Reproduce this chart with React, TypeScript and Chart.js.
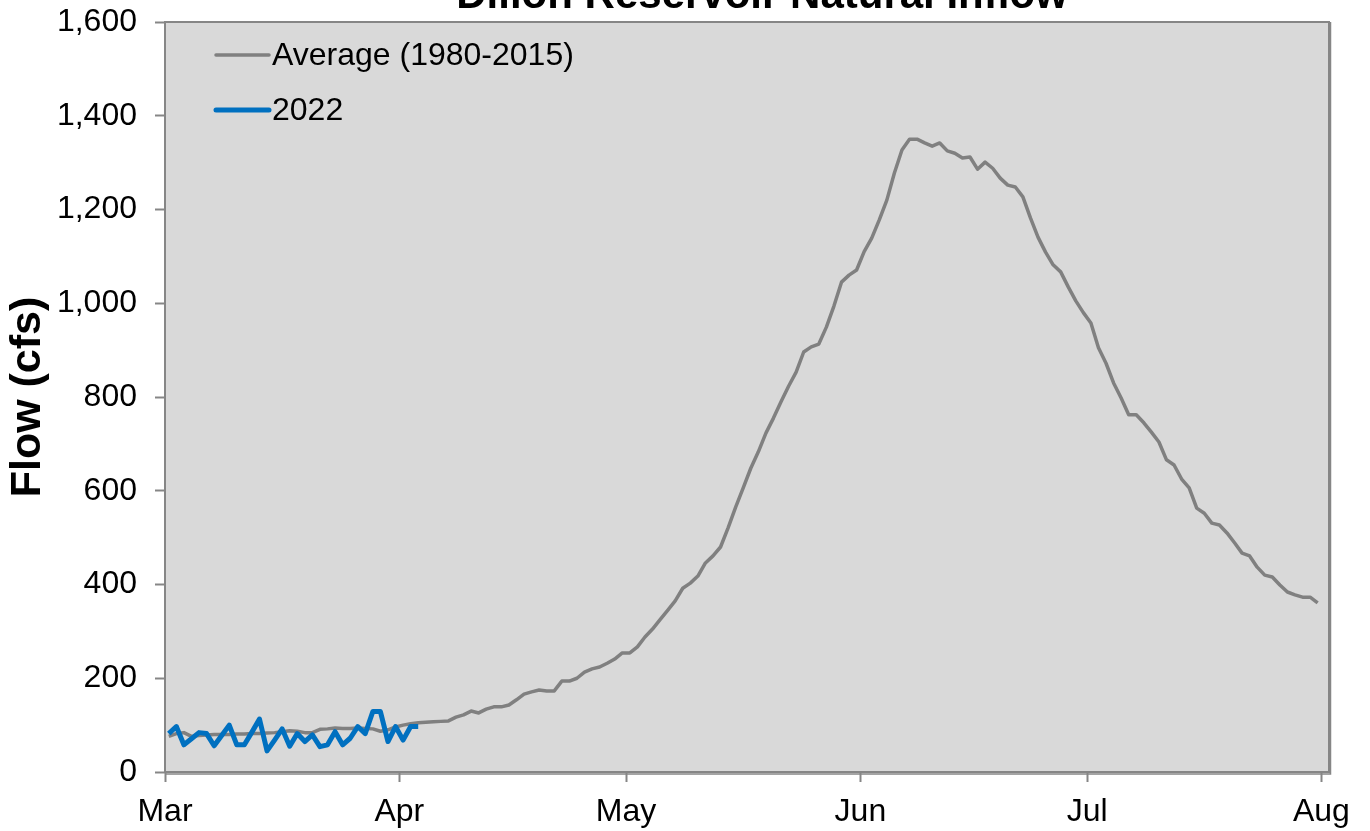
import React, { useEffect, useRef } from 'react';
import { Chart, registerables } from 'chart.js';

Chart.register(...registerables);

const TITLE = 'Dillon Reservoir Natural Inflow';
const Y_TITLE = 'Flow (cfs)';
const MONTH_LABELS = ['Mar', 'Apr', 'May', 'Jun', 'Jul', 'Aug'];
const MONTH_START_DAYS = [0, 31, 61, 92, 122, 153];
const AXIS_DAYS = 154;
const Y_MAX = 1600;
const Y_STEP = 200;

const AVERAGE_LABEL = 'Average (1980-2015)';
const CURRENT_LABEL = '2022';

// Daily average natural inflow, Mar 1 .. Jul 31 (cfs)
const AVERAGE_FLOW = [
  76, 82, 84, 76, 78, 79, 80, 80, 80, 81,
  81, 82, 82, 83, 84, 86, 88, 87, 84, 84,
  91, 92, 94, 93, 93, 94, 93, 92, 87, 90,
  96, 100, 103, 105, 106, 107, 108, 109, 117, 122,
  130, 126, 134, 139, 139, 143, 154, 166, 171, 175,
  173, 173, 194, 194, 200, 213, 220, 224, 232, 241,
  254, 254, 267, 288, 305, 325, 345, 365, 392, 403,
  418, 446, 461, 480, 521, 565, 606, 648, 683, 723,
  755, 790, 823, 853, 896, 907, 913, 949, 994, 1045,
  1060, 1071, 1110, 1139, 1178, 1220, 1278, 1327, 1350, 1350,
  1342, 1335, 1342, 1325, 1320, 1310, 1312, 1286, 1301, 1288,
  1267, 1252, 1248, 1227, 1182, 1141, 1109, 1082, 1067, 1035,
  1005, 980, 958, 905, 872, 830, 798, 762, 762, 745,
  725, 704, 666, 655, 625, 606, 563, 552, 531, 527,
  510, 489, 467, 461, 437, 420, 416, 399, 384, 378,
  373, 373, 361,
];

// Daily 2022 natural inflow, Mar 1 .. Apr 3 (cfs)
const FLOW_2022 = [
  82, 97, 58, 71, 84, 82, 56, 78, 100, 58,
  58, 85, 113, 45, 68, 92, 55, 82, 65, 79,
  54, 58, 86, 58, 72, 97, 82, 129, 129, 65,
  97, 68, 97, 97,
];

const AVERAGE_COLOR = '#808080';
const CURRENT_COLOR = '#0070C0';
const FONT = '"Liberation Sans", Arial, sans-serif';

const toPoints = (arr: number[]) => arr.map((v, i) => ({ x: i + 0.5, y: v }));

const plotPlugin = {
  id: 'plotDecor',
  beforeDraw(chart: any) {
    const { ctx, chartArea } = chart;
    const { left, top, right, bottom } = chartArea;
    ctx.save();
    ctx.fillStyle = '#d9d9d9';
    ctx.fillRect(left, top, right - left, bottom - top);
    ctx.restore();
  },
  beforeDatasetsDraw(chart: any) {
    const { ctx, chartArea } = chart;
    const { left, top, right, bottom } = chartArea;
    ctx.save();
    ctx.strokeStyle = '#868686';
    ctx.lineWidth = 2;
    ctx.strokeRect(left, top, right - left, bottom - top);
    ctx.lineWidth = 1.5;
    ctx.beginPath();
    ctx.moveTo(right + 1.5, top);
    ctx.lineTo(right + 1.5, bottom + 2);
    ctx.lineTo(left, bottom + 2);
    ctx.stroke();
    ctx.restore();
  },
  afterDraw(chart: any) {
    const { ctx, chartArea } = chart;
    const { left, top } = chartArea;
    ctx.save();
    ctx.fillStyle = '#000';
    ctx.font = `bold 42px ${FONT}`;
    ctx.textAlign = 'center';
    ctx.textBaseline = 'alphabetic';
    ctx.fillText(TITLE, 762, 8);
    const items = [
      { label: AVERAGE_LABEL, color: AVERAGE_COLOR, width: 3.5 },
      { label: CURRENT_LABEL, color: CURRENT_COLOR, width: 5 },
    ];
    ctx.font = `32px ${FONT}`;
    ctx.textAlign = 'left';
    ctx.textBaseline = 'middle';
    items.forEach((it, k) => {
      const y = top + 33 + k * 55;
      ctx.strokeStyle = it.color;
      ctx.lineWidth = it.width;
      ctx.lineCap = 'round';
      ctx.beginPath();
      ctx.moveTo(left + 51, y);
      ctx.lineTo(left + 104, y);
      ctx.stroke();
      ctx.fillStyle = '#000';
      ctx.fillText(it.label, left + 107, y + 1);
    });
    ctx.restore();
  },
};

export default function App() {
  const ref = useRef<HTMLCanvasElement | null>(null);

  useEffect(() => {
    if (!ref.current) return;
    const chart = new Chart(ref.current, {
      type: 'line',
      data: {
        datasets: [
          {
            label: AVERAGE_LABEL,
            data: toPoints(AVERAGE_FLOW),
            borderColor: AVERAGE_COLOR,
            borderWidth: 3.5,
            pointRadius: 0,
            tension: 0,
            order: 2,
            borderJoinStyle: 'round',
          },
          {
            label: CURRENT_LABEL,
            data: toPoints(FLOW_2022),
            borderColor: CURRENT_COLOR,
            borderWidth: 5,
            pointRadius: 0,
            tension: 0,
            order: 1,
            borderJoinStyle: 'round',
          },
        ],
      },
      options: {
        responsive: false,
        animation: false,
        devicePixelRatio: 1,
        layout: { padding: { left: 0, top: 22, right: 41, bottom: 0 } },
        plugins: {
          legend: { display: false },
          title: { display: false },
          tooltip: { enabled: false },
        },
        scales: {
          x: {
            type: 'linear',
            min: 0,
            max: AXIS_DAYS,
            afterBuildTicks: (scale: any) => {
              scale.ticks = MONTH_START_DAYS.map((v) => ({ value: v }));
            },
            afterFit: (scale: any) => {
              scale.height = 59;
              scale.paddingLeft = 0;
              scale.paddingRight = 0;
            },
            ticks: {
              autoSkip: false,
              maxRotation: 0,
              padding: 11,
              color: '#000',
              font: { family: FONT, size: 32 },
              callback: (value: any) => {
                const idx = MONTH_START_DAYS.indexOf(Number(value));
                return idx >= 0 ? MONTH_LABELS[idx] : '';
              },
            },
            grid: {
              drawOnChartArea: false,
              drawTicks: true,
              tickLength: 10,
              tickColor: '#868686',
              tickWidth: 2,
            },
            border: { display: false },
          },
          y: {
            type: 'linear',
            min: 0,
            max: Y_MAX,
            afterFit: (scale: any) => {
              scale.width = 165;
              scale.paddingTop = 0;
              scale.paddingBottom = 0;
            },
            ticks: {
              stepSize: Y_STEP,
              padding: 18,
              color: '#000',
              font: { family: FONT, size: 32 },
              callback: (value: any) => Number(value).toLocaleString('en-US'),
            },
            grid: {
              drawOnChartArea: false,
              drawTicks: true,
              tickLength: 10,
              tickColor: '#868686',
              tickWidth: 2,
            },
            border: { display: false },
            title: {
              display: true,
              text: Y_TITLE,
              color: '#000',
              font: { family: FONT, size: 43, weight: 'bold' },
              padding: { top: 2, bottom: 0 },
            },
          },
        },
      },
      plugins: [plotPlugin],
    });
    return () => chart.destroy();
  }, []);

  return (
    <div style={{ position: 'fixed', left: 0, top: 0, width: 1370, height: 831, background: '#fff' }}>
      <canvas ref={ref} width={1370} height={831} />
    </div>
  );
}
